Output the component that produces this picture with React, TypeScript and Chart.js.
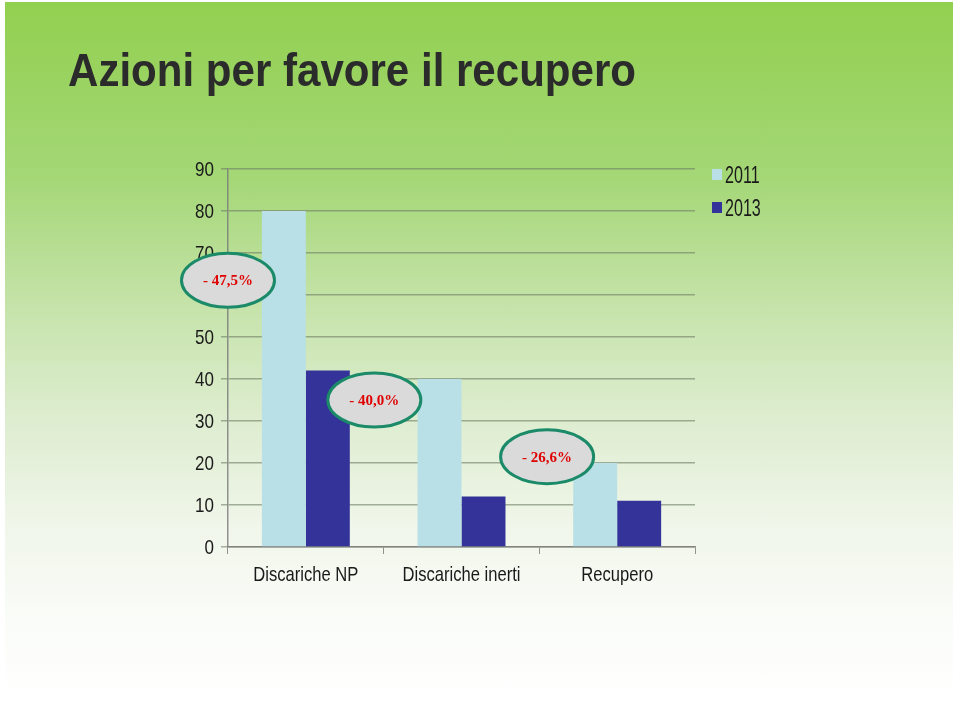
import React, { useEffect, useRef } from "react";
import { Chart, registerables } from "chart.js";

Chart.register(...registerables);

const TITLE = "Azioni per favore il recupero";
const categories = ["Discariche NP", "Discariche inerti", "Recupero"];
const seriesNames = ["2011", "2013"];
const values2011 = [80, 40, 20];
const values2013 = [42, 12, 11];
const yTicks = [0, 10, 20, 30, 40, 50, 60, 70, 80, 90];

// annotation bubbles: label, position on category axis (index units), value axis position
const noteLabels = ["- 47,5%", "- 40,0%", "- 26,6%"];
const noteX = [-0.5, 0.44, 1.55];
const noteY = [63.5, 35, 21.5];

const COLORS = ["#b9e0e6", "#333399"];
const SANS = "'Liberation Sans', Arial, sans-serif";

function narrowText(ctx: any, text: string, x: number, y: number, align: string, sx: number) {
  ctx.save();
  ctx.translate(x, y);
  ctx.scale(sx, 1);
  ctx.textAlign = align;
  ctx.fillText(text, 0, 0);
  ctx.restore();
}

export default function App() {
  const ref = useRef<HTMLCanvasElement | null>(null);

  useEffect(() => {
    if (!ref.current) return;

    const titlePlugin = {
      id: "pageTitle",
      afterDraw(chart: any) {
        const ctx = chart.ctx;
        ctx.save();
        ctx.font = `bold 47px ${SANS}`;
        ctx.fillStyle = "#2b2b2b";
        ctx.textBaseline = "alphabetic";
        const w = ctx.measureText(TITLE).width;
        narrowText(ctx, TITLE, 68, 86, "left", 568 / w);
        ctx.restore();
      },
    };

    const axisLabelsPlugin = {
      id: "axisLabels",
      afterDraw(chart: any) {
        const ctx = chart.ctx;
        const xs = chart.scales.x;
        const ys = chart.scales.y;
        const ca = chart.chartArea;
        ctx.save();
        ctx.fillStyle = "#1a1a1a";
        ctx.font = `21px ${SANS}`;
        ctx.textBaseline = "middle";
        ys.ticks.forEach((t: any, i: number) => {
          const py = ys.getPixelForTick(i);
          narrowText(ctx, String(t.value), ca.left - 14, py + 1, "right", 0.81);
        });
        ctx.font = `21px ${SANS}`;
        ctx.textBaseline = "alphabetic";
        chart.data.labels.forEach((lab: string, i: number) => {
          const px = xs.getPixelForValue(i);
          narrowText(ctx, lab, px, ca.bottom + 34, "center", 0.79);
        });
        ctx.restore();
      },
    };

    const legendPlugin = {
      id: "customLegend",
      afterDraw(chart: any) {
        const ctx = chart.ctx;
        const ca = chart.chartArea;
        ctx.save();
        ctx.font = `23px ${SANS}`;
        ctx.textBaseline = "alphabetic";
        chart.data.datasets.forEach((ds: any, i: number) => {
          const x = ca.right + 17;
          const y = ca.top + 5 + i * 33;
          ctx.fillStyle = ds.backgroundColor;
          ctx.fillRect(x, y - 5, 10, 11);
          ctx.fillStyle = "#1a1a1a";
          narrowText(ctx, ds.label, x + 13, y + 9, "left", 0.7);
        });
        ctx.restore();
      },
    };

    const notesPlugin = {
      id: "notes",
      afterDraw(chart: any) {
        const ctx = chart.ctx;
        const xs = chart.scales.x;
        const ys = chart.scales.y;
        ctx.save();
        noteLabels.forEach((t, i) => {
          const cx = xs.getPixelForValue(noteX[i]);
          const cy = ys.getPixelForValue(noteY[i]);
          ctx.beginPath();
          ctx.ellipse(cx, cy, 46.5, 27, 0, 0, Math.PI * 2);
          ctx.fillStyle = "#dadada";
          ctx.fill();
          ctx.lineWidth = 3;
          ctx.strokeStyle = "#1b8a68";
          ctx.stroke();
          ctx.font = "bold 15px 'Liberation Serif', 'Times New Roman', serif";
          ctx.fillStyle = "#e00000";
          ctx.textAlign = "center";
          ctx.textBaseline = "middle";
          ctx.fillText(t, cx, cy + 1);
        });
        ctx.restore();
      },
    };

    const chart = new Chart(ref.current, {
      type: "bar",
      data: {
        labels: categories,
        datasets: [
          { label: seriesNames[0], data: values2011, backgroundColor: COLORS[0] },
          { label: seriesNames[1], data: values2013, backgroundColor: COLORS[1] },
        ],
      },
      options: {
        responsive: false,
        animation: false,
        layout: { padding: { left: 188, top: 169, right: 265, bottom: 0 } },
        datasets: {
          bar: { categoryPercentage: 0.565, barPercentage: 1.0 },
        },
        plugins: {
          legend: { display: false },
          tooltip: { enabled: false },
          title: { display: false },
        },
        scales: {
          x: {
            grid: {
              drawOnChartArea: false,
              drawTicks: true,
              tickLength: 7,
              color: "rgba(120,120,120,0.8)",
              offset: true,
            },
            border: { display: true, color: "rgba(120,120,120,0.8)", width: 1.5 },
            ticks: { display: false, autoSkip: false },
            afterFit(scale: any) {
              scale.height = 154;
            },
          },
          y: {
            min: 0,
            max: 90,
            afterBuildTicks(scale: any) {
              scale.ticks = yTicks.map((v) => ({ value: v }));
            },
            grid: {
              color: "rgba(110,125,100,0.6)",
              lineWidth: 1.5,
              tickLength: 7,
              drawTicks: true,
            },
            border: { display: true, color: "rgba(120,120,120,0.8)", width: 1.5 },
            ticks: { display: false },
            afterFit(scale: any) {
              scale.width = 40;
            },
          },
        },
      },
      plugins: [titlePlugin, axisLabelsPlugin, legendPlugin, notesPlugin],
    });

    return () => chart.destroy();
  }, []);

  return (
    <div style={{ position: "absolute", left: 0, top: 0, width: 960, height: 701, background: "#ffffff", overflow: "hidden" }}>
      <div
        style={{
          position: "absolute",
          left: 5,
          top: 2,
          width: 948,
          height: 699,
          background:
            "linear-gradient(to bottom, #92d050 0%, #a4d776 25%, #c8e4ae 45%, #deedd0 60%, #f0f6ea 75%, #fafcf8 88%, #ffffff 100%)",
        }}
      />
      <canvas ref={ref} width={960} height={701} style={{ position: "absolute", left: 0, top: 0, width: 960, height: 701 }} />
    </div>
  );
}
